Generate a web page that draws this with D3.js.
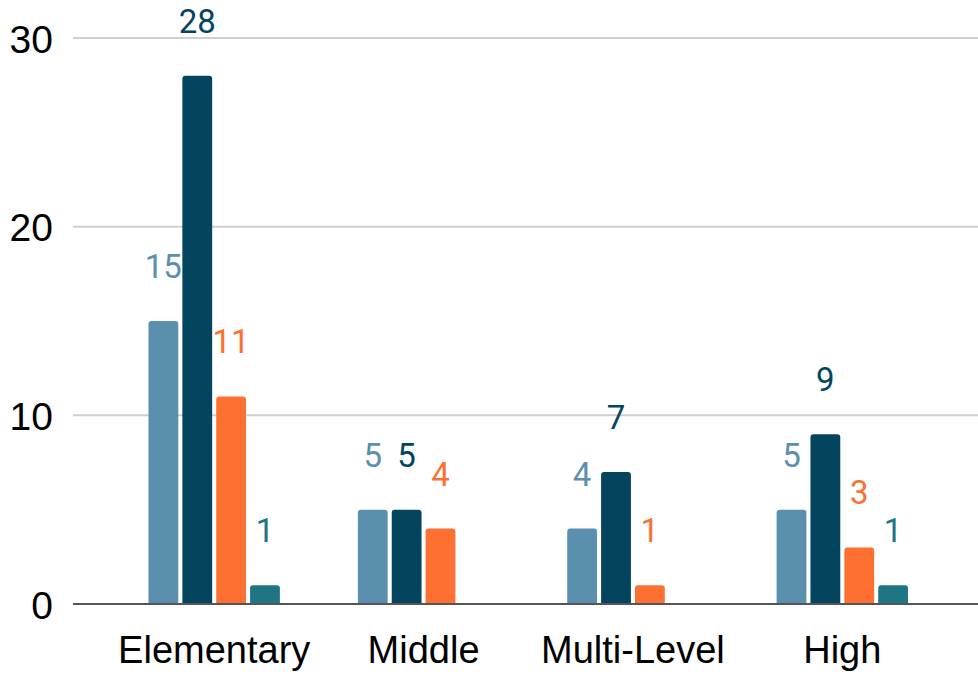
<!DOCTYPE html>
<html>
<head>
<meta charset="utf-8">
<script src="https://cdn.jsdelivr.net/npm/d3@7/dist/d3.min.js"></script>
<style>
  body { margin: 0; background: #fff; }
  #canvas { width: 978px; height: 674px; }
</style>
</head>
<body>
<div id="canvas" class="canvas"></div>
<script>
// data
var categories = ['Elementary', 'Middle', 'Multi-Level', 'High'];
var seriesNames = ['s1', 's2', 's3', 's4'];
var s1 = [15, 5, 4, 5];
var s2 = [28, 5, 7, 9];
var s3 = [11, 4, 1, 3];
var s4 = [1, 0, 0, 1];
var yTicks = [0, 10, 20, 30];

var colors = ['#5a8fad', '#03445f', '#fe6f32', '#1e7683'];
var allSeries = [s1, s2, s3, s4];

var W = 978, H = 674;

var svg = d3.select('.canvas').append('svg')
    .attr('width', W)
    .attr('height', H);

// scales
var scaleX = d3.scaleBand()
    .domain(categories)
    .range([109.5, 947])
    .padding(0);

var scaleS = d3.scaleBand()
    .domain(seriesNames)
    .range([-65.7, 65.7])
    .paddingInner(0.12);

var scaleY = d3.scaleLinear()
    .domain([0, 30])
    .range([604, 38]);

// gridlines
svg.append('g').selectAll('line')
    .data(yTicks.filter(function(d) { return d > 0; }))
    .enter().append('line')
    .attr('x1', 73).attr('x2', W)
    .attr('y1', function(d) { return scaleY(d); })
    .attr('y2', function(d) { return scaleY(d); })
    .style('stroke', '#cfcfcf')
    .style('stroke-width', 2);

// y axis labels
var yAxis = d3.axisLeft(scaleY).tickValues(yTicks).tickSize(0).tickPadding(0);
var gy = svg.append('g')
    .attr('transform', 'translate(53,0)')
    .call(yAxis);
gy.select('.domain').remove();
gy.selectAll('text')
    .attr('dy', '0.36em')
    .style('font-family', '"Liberation Sans", Arial, sans-serif')
    .style('font-size', '39px')
    .style('fill', '#000');

// bars and labels, one series at a time
allSeries.forEach(function(vals, i) {
  var g = svg.append('g');
  var rows = vals.map(function(v, j) { return {cat: categories[j], v: v}; })
      .filter(function(d) { return d.v > 0; });

  g.selectAll('path').data(rows).enter()
    .append('path')
    .attr('d', function(d) {
      var x0 = scaleX(d.cat) + scaleX.bandwidth() / 2 + scaleS(seriesNames[i]);
      var w = scaleS.bandwidth();
      var y0 = scaleY(d.v), y1 = scaleY(0);
      var r = 3;
      return 'M' + x0 + ',' + y1 +
        'V' + (y0 + r) +
        'Q' + x0 + ',' + y0 + ' ' + (x0 + r) + ',' + y0 +
        'H' + (x0 + w - r) +
        'Q' + (x0 + w) + ',' + y0 + ' ' + (x0 + w) + ',' + (y0 + r) +
        'V' + y1 + 'Z';
    })
    .style('fill', colors[i]);

  g.selectAll('text').data(rows).enter()
    .append('text')
    .attr('x', function(d) { return scaleX(d.cat) + scaleX.bandwidth() / 2 + scaleS(seriesNames[i]) + scaleS.bandwidth() / 2; })
    .attr('y', function(d) { return scaleY(d.v) - 43; })
    .attr('text-anchor', 'middle')
    .style('font-family', 'Roboto, sans-serif')
    .style('font-size', '33px')
    .style('fill', colors[i])
    .text(function(d) { return d.v; });
});

// baseline
svg.append('line')
    .attr('x1', 73).attr('x2', W)
    .attr('y1', scaleY(0)).attr('y2', scaleY(0))
    .style('stroke', '#555')
    .style('stroke-width', 2);

// x axis labels
var xAxis = d3.axisBottom(scaleX).tickSize(0).tickPadding(0);
var gx = svg.append('g')
    .attr('transform', 'translate(0,663)')
    .call(xAxis);
gx.select('.domain').remove();
gx.selectAll('text')
    .attr('dy', 0)
    .style('font-family', '"Liberation Sans", Arial, sans-serif')
    .style('font-size', '38px')
    .style('fill', '#000');
</script>
</body>
</html>
